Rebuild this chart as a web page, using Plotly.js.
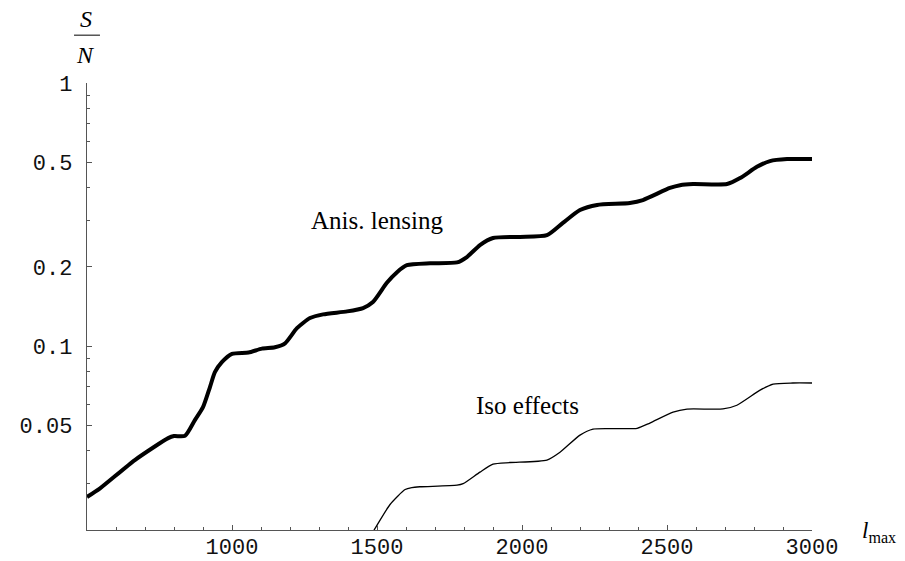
<!DOCTYPE html>
<html>
<head>
<meta charset="utf-8">
<script src="https://cdn.plot.ly/plotly-3.0.1.min.js"></script>
<style>html,body{margin:0;padding:0;background:#fff;}#chart{width:905px;height:561px;}</style>
</head>
<body>
<div id="chart"></div>
<script>
// Anisotropic lensing S/N vs l_max
const lensL = [500, 545, 665, 780, 800, 838, 872, 900, 924, 941, 965, 1000, 1057, 1103, 1148, 1183, 1224, 1269, 1314, 1397, 1452, 1486, 1534, 1569, 1603, 1683, 1776, 1810, 1855, 1900, 1993, 2086, 2141, 2200, 2259, 2372, 2417, 2510, 2545, 2590, 2707, 2752, 2810, 2855, 2914, 3000];
const lensSN = [0.0267, 0.0288, 0.0369, 0.0447, 0.0455, 0.0456, 0.0523, 0.0586, 0.0699, 0.0796, 0.0869, 0.0935, 0.0945, 0.0978, 0.0990, 0.1025, 0.117, 0.1278, 0.132, 0.1355, 0.1395, 0.147, 0.174, 0.191, 0.203, 0.2065, 0.208, 0.218, 0.242, 0.2575, 0.260, 0.264, 0.294, 0.329, 0.344, 0.350, 0.359, 0.399, 0.409, 0.413, 0.413, 0.435, 0.48, 0.505, 0.514, 0.514];

// Isotropic effects S/N vs l_max
const isoL = [1480, 1490, 1545, 1597, 1620, 1648, 1776, 1797, 1855, 1900, 1959, 2086, 2131, 2200, 2245, 2397, 2441, 2521, 2569, 2693, 2741, 2821, 2866, 2934, 3000];
const isoSN = [0.0193, 0.0200, 0.0250, 0.0285, 0.0290, 0.0292, 0.0296, 0.0300, 0.0332, 0.0356, 0.0361, 0.0369, 0.0395, 0.0459, 0.0484, 0.0487, 0.0510, 0.0561, 0.0576, 0.0577, 0.0596, 0.0680, 0.0717, 0.0724, 0.0724];

const xTicks = [1000, 1500, 2000, 2500, 3000];
const yTicks = [0.05, 0.1, 0.2, 0.5, 1];
const yTickText = ["0.05", "0.1", "0.2", "0.5", "1"];
const yMinor = [0.03, 0.04, 0.06, 0.07, 0.08, 0.09, 0.3, 0.4, 0.6, 0.7, 0.8, 0.9];
const labels = ["Anis. lensing", "Iso effects"];

const traces = [
  {x: lensL, y: lensSN, type: 'scatter', mode: 'lines', name: labels[0],
   line: {color: '#000', width: 4, shape: 'spline', smoothing: 0.6}},
  {x: isoL, y: isoSN, type: 'scatter', mode: 'lines', name: labels[1],
   line: {color: '#000', width: 1.3, shape: 'spline', smoothing: 0.6}}
];

const tickFont = {family: 'Liberation Mono, Courier New, monospace', size: 22, color: '#111'};
const serif = 'Liberation Serif, Times New Roman, serif';

const layout = {
  width: 905, height: 561, autosize: false,
  margin: {l: 87, r: 93, t: 83, b: 31, pad: 0},
  paper_bgcolor: '#fff', plot_bgcolor: '#fff',
  showlegend: false,
  xaxis: {
    range: [500, 3000], showgrid: false, zeroline: false,
    showline: true, linecolor: '#555', linewidth: 1.2,
    ticks: 'inside', ticklen: 5, tickcolor: '#555', tickwidth: 1,
    tickmode: 'array', tickvals: xTicks,
    tickfont: tickFont, ticklabelstandoff: -4,
    minor: {ticks: 'inside', ticklen: 3, tickcolor: '#555', dtick: 100, tick0: 500, showgrid: false}
  },
  yaxis: {
    type: 'log', range: [Math.log10(0.02), 0], showgrid: false, zeroline: false,
    showline: true, linecolor: '#555', linewidth: 1.2,
    ticks: 'inside', ticklen: 5, tickcolor: '#555', tickwidth: 1,
    tickmode: 'array', tickvals: yTicks, ticktext: yTickText,
    tickfont: tickFont, ticklabelstandoff: 9,
    minor: {ticks: 'inside', ticklen: 3, tickcolor: '#555', tickmode: 'array', tickvals: yMinor, showgrid: false}
  },
  annotations: [
    {xref: 'paper', yref: 'paper', x: 0.4, y: 0.6935, xanchor: 'center', yanchor: 'middle',
     text: labels[0], showarrow: false, font: {family: serif, size: 25, color: '#000'}},
    {xref: 'paper', yref: 'paper', x: 0.607, y: 0.2796, xanchor: 'center', yanchor: 'middle',
     text: labels[1], showarrow: false, font: {family: serif, size: 25, color: '#000'}},
    {xref: 'paper', yref: 'paper', x: -0.0014, y: 1.143, xanchor: 'center', yanchor: 'middle',
     text: '<i>S</i>', showarrow: false, font: {family: serif, size: 24, color: '#000'}},
    {xref: 'paper', yref: 'paper', x: -0.0014, y: 1.062, xanchor: 'center', yanchor: 'middle',
     text: '<i>N</i>', showarrow: false, font: {family: serif, size: 24, color: '#000'}},
    {xref: 'paper', yref: 'paper', x: 1.066, y: -0.005, xanchor: 'left', yanchor: 'middle',
     text: '<i>l</i><sub>max</sub>', showarrow: false, font: {family: serif, size: 23, color: '#000'}}
  ],
  shapes: [
    {type: 'line', xref: 'paper', yref: 'paper', x0: -0.0179, x1: 0.0179, y0: 1.107, y1: 1.107,
     line: {color: '#000', width: 1}}
  ]
};

Plotly.newPlot('chart', traces, layout, {staticPlot: true, displayModeBar: false});
</script>
</body>
</html>
